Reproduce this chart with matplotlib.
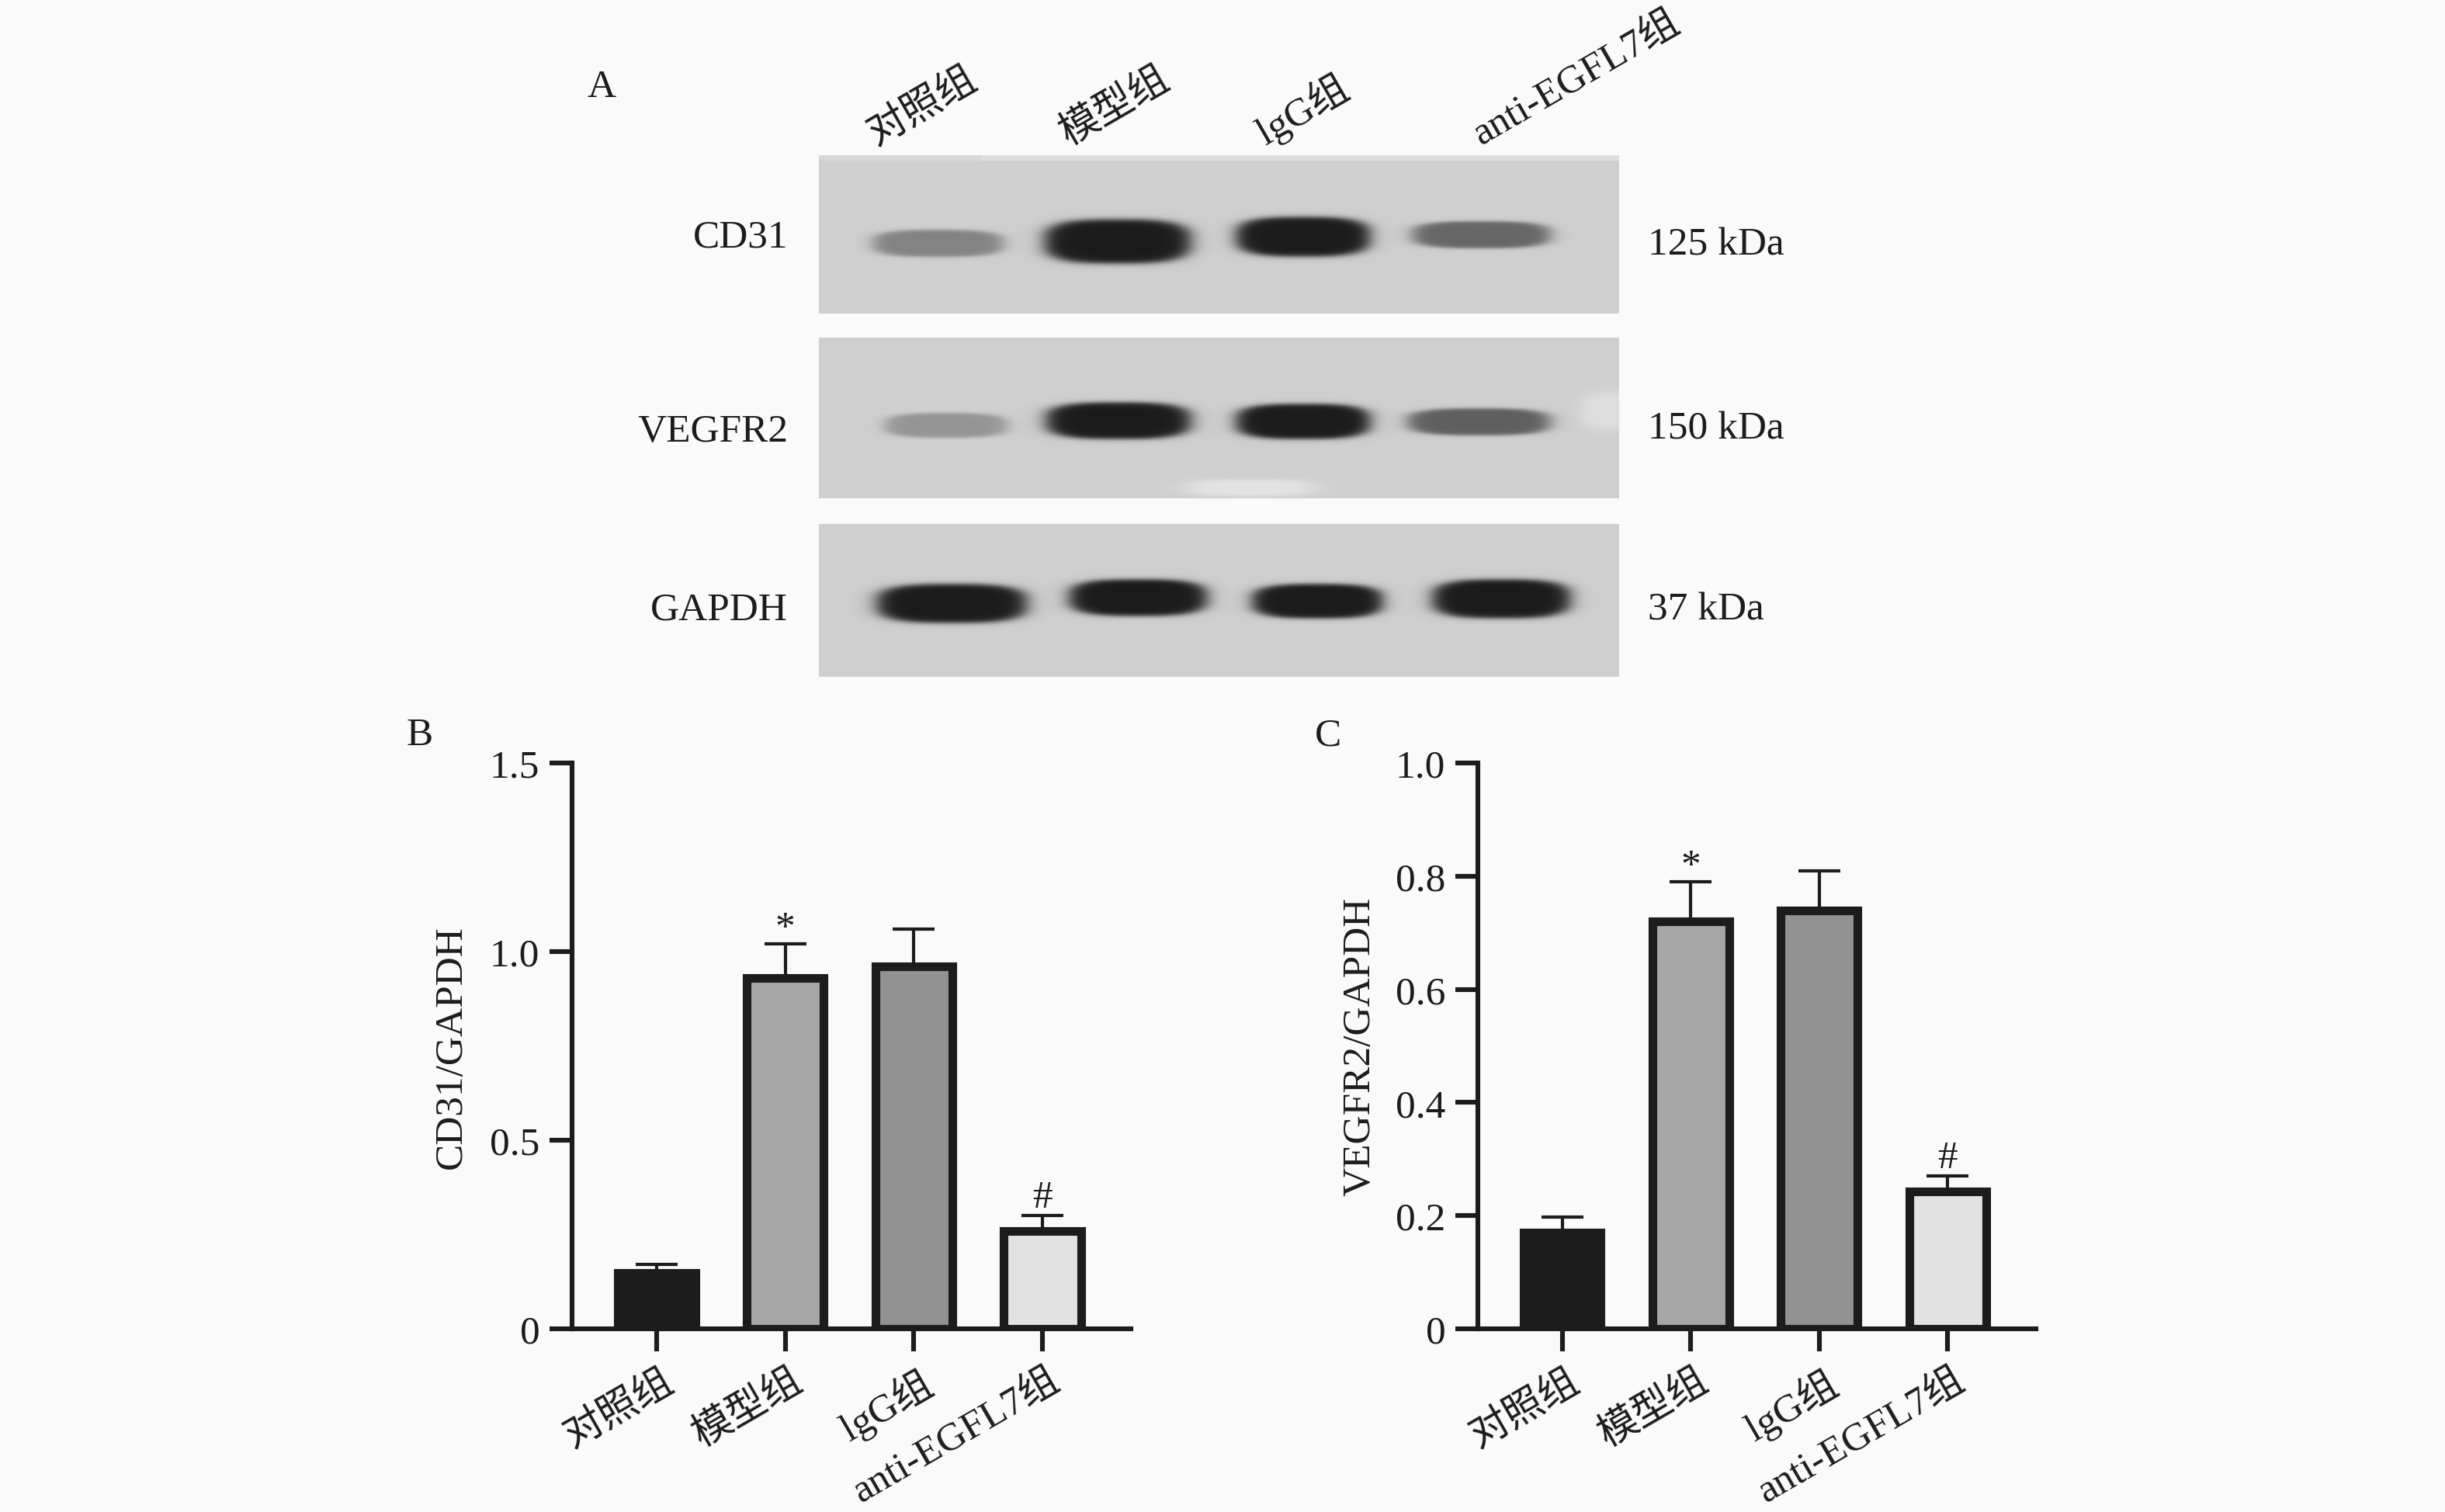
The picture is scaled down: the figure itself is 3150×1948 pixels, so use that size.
import numpy as np
import matplotlib
matplotlib.use("Agg")
import matplotlib.pyplot as plt
from matplotlib.transforms import ScaledTranslation

W, H = 3150, 1949
DPI = 100
FONT = ['Liberation Serif', 'Noto Sans CJK SC']
FS = 37
BG = '#fafafa'
INK = '#1c1c1c'

plt.rcParams['font.family'] = FONT
plt.rcParams['axes.unicode_minus'] = False

groups = ['对照组', '模型组', 'lgG组', 'anti-EGFL7组']
bar_colors = ['#1c1c1c', '#a6a6a6', '#929292', '#e2e2e2']

cd31_means = [0.148, 0.93, 0.96, 0.26]
cd31_errs = [0.022, 0.09, 0.10, 0.04]
cd31_marks = ['', '*', '', '#']
cd31_ticks = [0, 0.5, 1.0, 1.5]
cd31_ticklabels = ['0', '0.5', '1.0', '1.5']

vegfr2_means = [0.17, 0.72, 0.74, 0.243]
vegfr2_errs = [0.028, 0.07, 0.07, 0.027]
vegfr2_marks = ['', '*', '', '#']
vegfr2_ticks = [0, 0.2, 0.4, 0.6, 0.8, 1.0]
vegfr2_ticklabels = ['0', '0.2', '0.4', '0.6', '0.8', '1.0']

# blot bands: left, right, top, bottom (full-size pixels), darkness 0-1
cd31_bands = [(1121, 1295, 296, 332, 0.42), (1342, 1537, 282, 341, 1.0),
              (1589, 1768, 279, 332, 1.0), (1816, 2000, 285, 321, 0.58)]
vegfr2_bands = [(1137, 1300, 532, 565, 0.32), (1344, 1537, 518, 567, 1.0),
                (1589, 1768, 520, 567, 1.0), (1810, 2000, 526, 562, 0.62)]
gapdh_bands = [(1126, 1326, 752, 804, 1.0), (1374, 1558, 746, 795, 1.0),
               (1610, 1784, 752, 798, 1.0), (1842, 2026, 746, 798, 1.0)]


def px_rect(left, top, right, bottom):
    return [left / W, 1 - bottom / H, (right - left) / W, (bottom - top) / H]


def fig_text(fig, x, y, s, **kw):
    return fig.text(x / W, 1 - y / H, s, fontsize=FS, color=INK, **kw)


def soft_blob(xx, yy, x0, x1, y0, y1, soft):
    cx, cy = (x0 + x1) / 2, (y0 + y1) / 2
    a, b = (x1 - x0) / 2, (y1 - y0) / 2
    dist = ((np.abs(xx - cx) / a) ** 3 + (np.abs(yy - cy) / b) ** 3) ** (1 / 3)
    return 1 / (1 + np.exp((dist - 0.96) / soft))


def draw_blot(fig, left, top, right, bottom, bands, strips=(), spots=()):
    xx, yy = np.meshgrid(np.arange(left, right), np.arange(top, bottom))
    img = np.full(xx.shape, 0.81)
    for (x0, x1, y0, y1, val) in strips:
        m = (xx >= x0) & (xx < x1) & (yy >= y0) & (yy < y1)
        img[m] = val
    for (x0, x1, y0, y1, val) in spots:
        alpha = soft_blob(xx, yy, x0, x1, y0, y1, 0.12)
        img = img * (1 - alpha) + val * alpha
    dark = 0.105
    for (x0, x1, y0, y1, d) in bands:
        alpha = d * soft_blob(xx, yy, x0, x1, y0, y1, 0.07)
        img = img * (1 - alpha) + dark * alpha
    ax = fig.add_axes(px_rect(left, top, right, bottom))
    ax.imshow(img, cmap='gray', vmin=0, vmax=1, aspect='auto', interpolation='bilinear')
    ax.axis('off')


def draw_bars(fig, rect, means, errs, marks, ticks, ticklabels, ymax, ylabel, ylabel_x, ylabel_y):
    ax = fig.add_axes(rect)
    ax.set_facecolor('none')
    x = np.arange(len(means))
    ax.errorbar(x, means, yerr=[np.zeros(len(errs)), errs], fmt='none', ecolor=INK,
                elinewidth=3.0, capsize=19.5, capthick=3.0, zorder=1)
    ax.bar(x, means, width=0.6, color=bar_colors, edgecolor=INK, linewidth=8, zorder=2)
    for xi, m, e, s in zip(x, means, errs, marks):
        if s:
            ax.annotate(s, (xi, m + e), xytext=(0, 0 if s == '#' else -2),
                        textcoords='offset points', ha='center', va='bottom',
                        fontsize=FS, color=INK)
    ax.set_xlim(-0.658, 3.688)
    ax.set_ylim(0, ymax)
    ax.set_yticks(ticks)
    ax.set_yticklabels(ticklabels, fontsize=FS, color=INK)
    ax.set_xticks(x)
    ax.set_xticklabels(groups, fontsize=FS, color=INK, rotation=30, ha='right',
                       va='top', rotation_mode='anchor')
    ax.tick_params(axis='y', length=21, width=4.4, color=INK, pad=9)
    ax.tick_params(axis='x', length=21, width=4.4, color=INK, pad=10)
    # labels sit a little right of the ticks
    shift = ScaledTranslation(5 / 72, 0, fig.dpi_scale_trans)
    for lab in ax.get_xticklabels():
        lab.set_transform(lab.get_transform() + shift)
    for side in ('top', 'right'):
        ax.spines[side].set_visible(False)
    for side in ('left', 'bottom'):
        ax.spines[side].set_linewidth(4.4)
        ax.spines[side].set_color(INK)
        ax.spines[side].set_zorder(3)
    fig.text(ylabel_x / W, 1 - ylabel_y / H, ylabel, rotation=90, fontsize=FS, color=INK,
             ha='center', va='center')
    return ax


def main():
    fig = plt.figure(figsize=(W / DPI, H / DPI), dpi=DPI, facecolor=BG)

    # panel A
    draw_blot(fig, 1055, 201, 2086, 405, cd31_bands,
              strips=[(1265, 2086, 201, 208, 0.87), (1055, 1265, 201, 208, 0.84)])
    draw_blot(fig, 1055, 436, 2086, 643, vegfr2_bands,
              spots=[(2035, 2115, 505, 555, 0.87), (1525, 1695, 618, 640, 0.89)])
    draw_blot(fig, 1055, 676, 2086, 873, gapdh_bands)

    fig_text(fig, 775, 113, 'A', ha='center', va='center')
    fig_text(fig, 541, 948, 'B', ha='center', va='center')
    fig_text(fig, 1711, 948, 'C', ha='center', va='center')

    for x, s in zip([1134, 1382, 1636, 1913], groups):
        fig_text(fig, x, 197, s, rotation=30, ha='left', va='bottom', rotation_mode='anchor')
    for y, s in zip([306, 557, 786], ['CD31', 'VEGFR2', 'GAPDH']):
        fig_text(fig, 1015, y, s, ha='right', va='center')
    for y, s in zip([316, 553, 786], ['125 kDa', '150 kDa', '37 kDa']):
        fig_text(fig, 2123, y, s, ha='left', va='center')

    # panels B and C
    draw_bars(fig, px_rect(737, 984, 1457, 1713), cd31_means, cd31_errs, cd31_marks,
              cd31_ticks, cd31_ticklabels, 1.5, 'CD31/GAPDH', 582, 1349)
    draw_bars(fig, px_rect(1904, 984, 2623, 1713), vegfr2_means, vegfr2_errs, vegfr2_marks,
              vegfr2_ticks, vegfr2_ticklabels, 1.0, 'VEGFR2/GAPDH', 1752, 1348)

    fig.savefig('out.png', dpi=DPI, facecolor=BG)


if __name__ == '__main__':
    main()
